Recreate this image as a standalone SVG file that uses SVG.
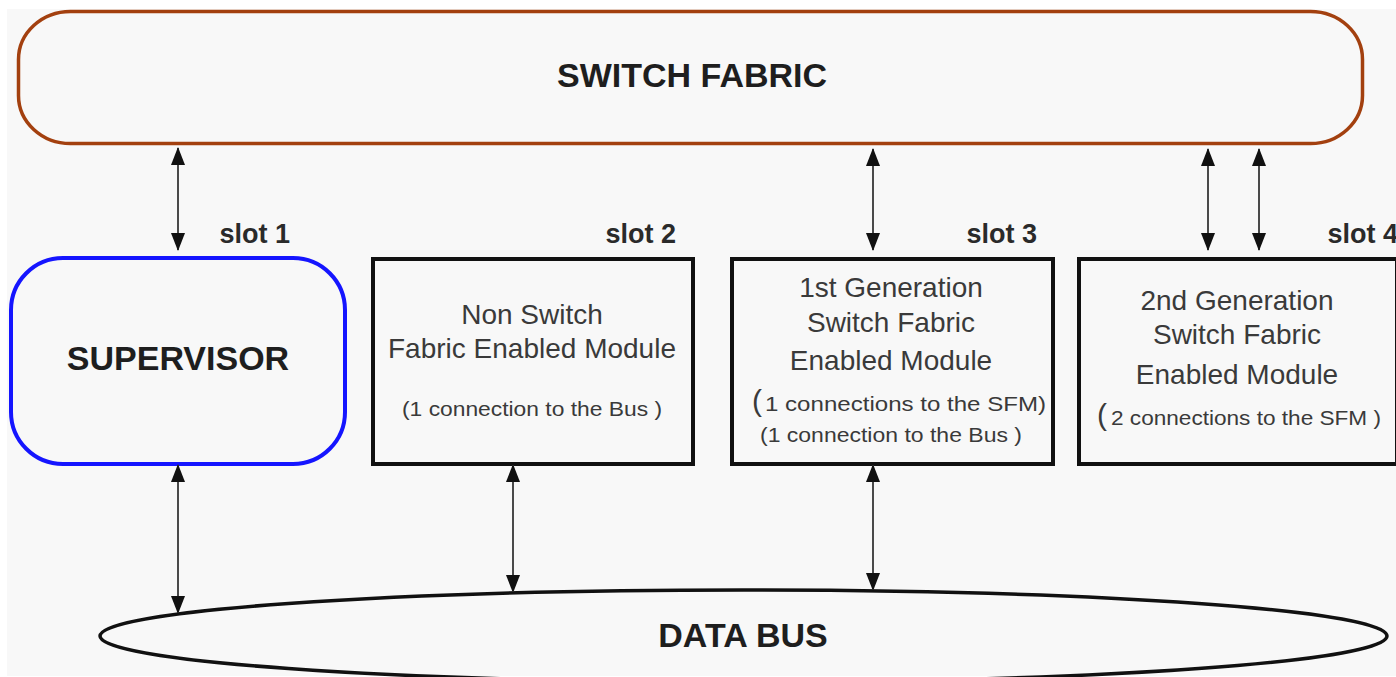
<svg xmlns="http://www.w3.org/2000/svg" width="1396" height="677" viewBox="0 0 1396 677">
<style>
.bg{fill:#f8f8f8}
.title{font-family:"Liberation Sans",Arial,sans-serif;font-weight:bold;font-size:34px;fill:#1e1e1e;text-anchor:middle}
.slot{font-family:"Liberation Sans",Arial,sans-serif;font-weight:bold;font-size:27px;fill:#2a2a2a;text-anchor:end}
.mod{font-family:"Liberation Sans",Arial,sans-serif;font-size:28px;fill:#3a3a3a;text-anchor:middle}
.sm{font-family:"Liberation Sans",Arial,sans-serif;font-size:21px;fill:#3a3a3a}
.box{fill:none;stroke:#111;stroke-width:4}
.conn line{stroke:#4a4a4a;stroke-width:2;marker-start:url(#ah);marker-end:url(#ah)}
</style>
<defs>
<marker id="ah" markerUnits="userSpaceOnUse" markerWidth="18" markerHeight="14" viewBox="0 0 18 14" refX="17" refY="7" orient="auto-start-reverse">
<path d="M0,0 L18,7 L0,14 z" fill="#111"/>
</marker>
</defs>
<rect x="0" y="0" width="1396" height="677" fill="#ffffff"/>
<rect class="bg" x="7" y="9" width="1389" height="667"/>

<g id="switch-fabric">
<rect x="18.5" y="11.5" width="1344" height="132" rx="52" ry="48" fill="none" stroke="#a3400f" stroke-width="3.5"/>
<text class="title" x="692" y="87">SWITCH FABRIC</text>
</g>

<g id="supervisor">
<rect x="11" y="258" width="334" height="206" rx="52" ry="52" fill="none" stroke="#1515ff" stroke-width="4"/>
<text class="title" x="178" y="370">SUPERVISOR</text>
<text class="slot" x="290" y="243">slot 1</text>
</g>

<g id="slot2">
<rect class="box" x="373" y="259" width="320" height="205"/>
<text class="slot" x="676" y="243">slot 2</text>
<text class="mod" x="532" y="324">Non Switch</text>
<text class="mod" x="532" y="358">Fabric Enabled Module</text>
<text class="sm" x="402" y="416" textLength="260" lengthAdjust="spacingAndGlyphs">(1 connection to the Bus )</text>
</g>

<g id="slot3">
<rect class="box" x="732" y="259" width="321" height="205"/>
<text class="slot" x="1037" y="243">slot 3</text>
<text class="mod" x="891" y="297">1st Generation</text>
<text class="mod" x="891" y="332">Switch Fabric</text>
<text class="mod" x="891" y="370">Enabled Module</text>
<text class="sm" x="752" y="411"><tspan font-size="30">(</tspan><tspan x="765" textLength="281" lengthAdjust="spacingAndGlyphs">1 connections to the SFM)</tspan></text>
<text class="sm" x="760" y="442" textLength="262" lengthAdjust="spacingAndGlyphs">(1 connection to the Bus )</text>
</g>

<g id="slot4">
<rect class="box" x="1079" y="259" width="318" height="205"/>
<text class="slot" x="1398" y="243">slot 4</text>
<text class="mod" x="1237" y="310">2nd Generation</text>
<text class="mod" x="1237" y="344">Switch Fabric</text>
<text class="mod" x="1237" y="384">Enabled Module</text>
<text class="sm" x="1097" y="425"><tspan font-size="30">(</tspan><tspan x="1111" textLength="270" lengthAdjust="spacingAndGlyphs">2 connections to the SFM )</tspan></text>
</g>

<g id="data-bus">
<ellipse cx="743.5" cy="636" rx="643.5" ry="46" fill="none" stroke="#111" stroke-width="3.5"/>
<text class="title" x="743" y="647">DATA BUS</text>
</g>

<g id="connectors" class="conn">
<line x1="178" y1="148" x2="178" y2="250"/>
<line x1="873" y1="149" x2="873" y2="250"/>
<line x1="1208" y1="149" x2="1208" y2="250"/>
<line x1="1259" y1="149" x2="1259" y2="250"/>
<line x1="178" y1="465" x2="178" y2="613"/>
<line x1="513" y1="465" x2="513" y2="592"/>
<line x1="873" y1="465" x2="873" y2="590"/>
</g>
</svg>
